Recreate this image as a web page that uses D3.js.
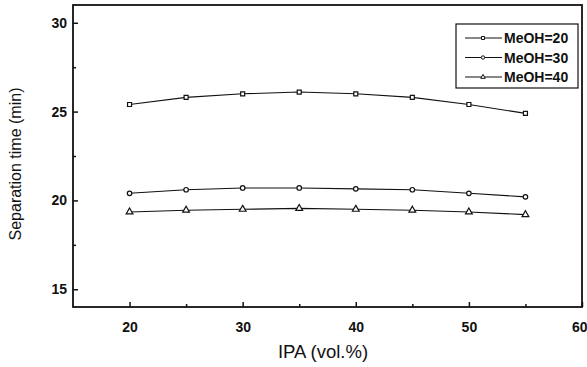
<!DOCTYPE html>
<html>
<head>
<meta charset="utf-8">
<script src="https://cdn.jsdelivr.net/npm/d3@7"></script>
<style>
  body { margin: 0; background: #fff; }
  #chart { width: 587px; height: 367px; }
  .tick text { font-family: "Liberation Sans", Arial, sans-serif; font-size: 14px; font-weight: bold; fill: #111; }
  .tick line { stroke: #111; stroke-width: 1.5; }
  .labels { font-family: "Liberation Sans", Arial, sans-serif; fill: #111; }
  .legend text { font-family: "Liberation Sans", Arial, sans-serif; font-size: 14px; font-weight: bold; fill: #111; }
</style>
</head>
<body>
<div id="chart"></div>
<script>
// datos
const ipa = [20, 25, 30, 35, 40, 45, 50, 55];
const meoh20 = [25.4, 25.8, 26.0, 26.1, 26.0, 25.8, 25.4, 24.9];
const meoh30 = [20.4, 20.6, 20.7, 20.7, 20.65, 20.6, 20.4, 20.2];
const meoh40 = [19.35, 19.45, 19.5, 19.55, 19.5, 19.45, 19.35, 19.2];
const seriesNames = ["MeOH=20", "MeOH=30", "MeOH=40"];
const xTicks = [20, 30, 40, 50, 60];
const xMinor = [25, 35, 45, 55];
const yTicks = [15, 20, 25, 30];
const yMinor = [17.5, 22.5, 27.5];

const series = [meoh20, meoh30, meoh40].map((vals, i) => ({
  name: seriesNames[i],
  symbol: [d3.symbolSquare, d3.symbolCircle, d3.symbolTriangle][i],
  values: vals.map((v, j) => ({ x: ipa[j], y: v })),
}));

const svg = d3
  .select("#chart")
  .append("svg")
  .attr("width", 587)
  .attr("height", 367);

// escalas
const x = d3.scaleLinear().domain([15, 60]).range([73, 582]);
const y = d3.scaleLinear().domain([14, 31]).range([307, 5]);

// ejes con ticks hacia adentro
const xAxis = svg
  .append("g")
  .attr("transform", `translate(0, ${y(14)})`)
  .call(d3.axisBottom(x).tickValues(xTicks).tickSize(-5).tickPadding(15));
svg
  .append("g")
  .attr("transform", `translate(0, ${y(14)})`)
  .call(d3.axisBottom(x).tickValues(xMinor).tickSize(-3).tickFormat(""));

// la etiqueta 60 queda pegada al borde derecho
xAxis
  .selectAll(".tick")
  .filter((d) => d === 60)
  .select("text")
  .attr("text-anchor", "end")
  .attr("x", 5);

const yAxis = svg
  .append("g")
  .attr("transform", `translate(${x(15)}, 0)`)
  .call(d3.axisLeft(y).tickValues(yTicks).tickSize(-5).tickPadding(6));
svg
  .append("g")
  .attr("transform", `translate(${x(15)}, 0)`)
  .call(d3.axisLeft(y).tickValues(yMinor).tickSize(-3).tickFormat(""));

svg.selectAll(".domain").remove();

// marco
svg
  .append("rect")
  .attr("x", x(15))
  .attr("y", y(31))
  .attr("width", x(60) - x(15))
  .attr("height", y(14) - y(31))
  .attr("fill", "none")
  .attr("stroke", "#111")
  .attr("stroke-width", 1.8);

// lineas y marcadores
const line = d3
  .line()
  .x((d) => x(d.x))
  .y((d) => y(d.y));

const groups = svg.selectAll(".serie").data(series).enter().append("g").attr("class", "serie");

groups
  .append("path")
  .attr("d", (d) => line(d.values))
  .attr("fill", "none")
  .attr("stroke", "#111")
  .attr("stroke-width", 1.1);

groups
  .selectAll("path.mark")
  .data((d) => d.values.map((v) => ({ ...v, symbol: d.symbol })))
  .enter()
  .append("path")
  .attr("class", "mark")
  .attr("transform", (d) => `translate(${x(d.x)}, ${y(d.y)})`)
  .attr("d", (d) => d3.symbol().type(d.symbol).size(d.symbol === d3.symbolTriangle ? 20 : 16)())
  .attr("fill", "#fff")
  .attr("stroke", "#111")
  .attr("stroke-width", 1.2);

// titulos
svg
  .append("text")
  .attr("class", "labels")
  .attr("x", 323)
  .attr("y", 358)
  .attr("text-anchor", "middle")
  .style("font-size", "18.5px")
  .text("IPA (vol.%)");

svg
  .append("g")
  .attr("transform", "translate(21, 164)")
  .append("text")
  .attr("class", "labels")
  .attr("transform", "rotate(-90)")
  .attr("text-anchor", "middle")
  .style("font-size", "16px")
  .text("Separation time (min)");

// leyenda
const legend = svg.append("g").attr("class", "legend");
legend
  .append("rect")
  .attr("x", 456)
  .attr("y", 24)
  .attr("width", 122)
  .attr("height", 64)
  .attr("fill", "#fff")
  .attr("stroke", "#111")
  .attr("stroke-width", 1.2);

const items = legend
  .selectAll(".item")
  .data(series)
  .enter()
  .append("g")
  .attr("class", "item")
  .attr("transform", (d, i) => `translate(0, ${38 + i * 19.5})`);

items
  .append("line")
  .attr("x1", 465)
  .attr("x2", 502)
  .attr("stroke", "#111")
  .attr("stroke-width", 1.1);

items
  .append("path")
  .attr("transform", "translate(483, 0)")
  .attr("d", (d) => d3.symbol().type(d.symbol).size(9)())
  .attr("fill", "#fff")
  .attr("stroke", "#111")
  .attr("stroke-width", 1);

items
  .append("text")
  .attr("x", 504)
  .attr("y", 5)
  .text((d) => d.name);
</script>
</body>
</html>
